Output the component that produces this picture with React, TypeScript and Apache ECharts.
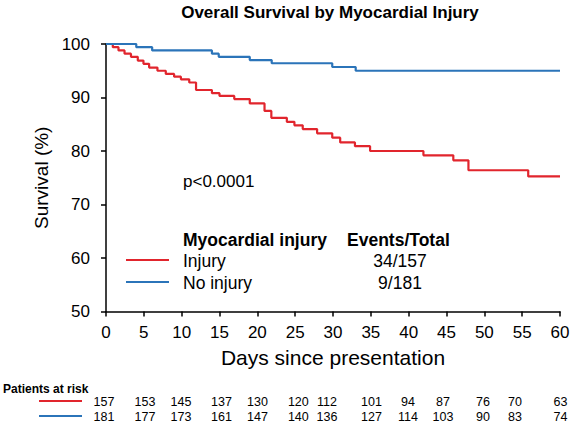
import React, { useEffect, useRef } from "react";
import * as echarts from "echarts";

const FONT = "'Liberation Sans', Arial, Helvetica, sans-serif";
const RED = "#e1252d";
const BLUE = "#2b74b9";

const titleText = "Overall Survival by Myocardial Injury";
const xAxisName = "Days since presentation";
const yAxisName = "Survival (%)";
const pValueText = "p<0.0001";
const legendHeader = ["Myocardial injury", "Events/Total"];
const groupNames = ["Injury", "No injury"];
const groupEvents = ["34/157", "9/181"];

// Kaplan-Meier steps: [day, survival %]
const injuryCurve: [number, number][] = [
  [0, 100], [0.9, 99.4], [1.65, 98.8], [2.45, 98.2], [3.3, 97.6], [4.2, 96.9],
  [4.95, 96.3], [5.7, 95.6], [6.8, 95.0], [7.9, 94.4], [9.0, 93.9], [9.9, 93.4],
  [11.0, 92.8], [11.9, 91.4], [14.0, 90.8], [15.0, 90.3], [16.95, 89.7], [19.0, 88.9],
  [20.95, 87.5], [21.85, 86.2], [23.9, 85.45], [24.9, 84.8], [26.0, 84.1], [27.9, 83.3],
  [29.9, 82.5], [30.95, 81.6], [32.9, 80.9], [34.9, 80.0], [41.95, 79.2], [45.9, 78.25],
  [47.9, 76.4], [55.8, 75.25], [60, 75.25],
];
const noInjuryCurve: [number, number][] = [
  [0, 100], [4.0, 99.4], [6.1, 98.8], [14.0, 98.2], [14.9, 97.6], [19.0, 97.0],
  [21.9, 96.4], [29.9, 95.7], [33.0, 95.0], [60, 95.0],
];

const atRiskTitle = "Patients at risk";
const atRiskInjury = [157, 153, 145, 137, 130, 120, 112, 101, 94, 87, 76, 70, 63];
const atRiskNoInjury = [181, 177, 173, 161, 147, 140, 136, 127, 114, 103, 90, 83, 74];

// layout (pixel positions of the at-risk table columns)
const atRiskColX = [104, 145, 181, 221.5, 257.5, 298.3, 327, 371.5, 408, 443, 483, 515, 560.5];

export default function App() {
  const ref = useRef<HTMLDivElement>(null);
  useEffect(() => {
    if (!ref.current) return;
    const chart = echarts.init(ref.current, null, { renderer: "svg" });
    const colors = [RED, BLUE];
    const graphic: any[] = [
      {
        type: "text", x: 330, y: 12,
        style: { text: titleText, font: `bold 17px ${FONT}`, fill: "#000", align: "center", verticalAlign: "middle" },
      },
      {
        type: "text", x: 183, y: 181,
        style: { text: pValueText, font: `17px ${FONT}`, fill: "#000", align: "left", verticalAlign: "middle" },
      },
      {
        type: "text", x: 183, y: 240,
        style: { text: legendHeader[0], font: `bold 17.5px ${FONT}`, fill: "#000", align: "left", verticalAlign: "middle" },
      },
      {
        type: "text", x: 347, y: 240,
        style: { text: legendHeader[1], font: `bold 17.5px ${FONT}`, fill: "#000", align: "left", verticalAlign: "middle" },
      },
      {
        type: "text", x: 3, y: 389,
        style: { text: atRiskTitle, font: `bold 12px ${FONT}`, fill: "#000", align: "left", verticalAlign: "middle" },
      },
    ];
    const legendY = [261, 283];
    groupNames.forEach((name, i) => {
      graphic.push({
        type: "line",
        shape: { x1: 126, y1: legendY[i] - 1, x2: 169, y2: legendY[i] - 1 },
        style: { stroke: colors[i], lineWidth: 2 },
      });
      graphic.push({
        type: "text", x: 183, y: legendY[i],
        style: { text: name, font: `17.5px ${FONT}`, fill: "#000", align: "left", verticalAlign: "middle" },
      });
      graphic.push({
        type: "text", x: 400, y: legendY[i],
        style: { text: groupEvents[i], font: `17.5px ${FONT}`, fill: "#000", align: "center", verticalAlign: "middle" },
      });
    });
    const rowY = [402, 417];
    [atRiskInjury, atRiskNoInjury].forEach((row, r) => {
      graphic.push({
        type: "line",
        shape: { x1: 39, y1: rowY[r] - 1, x2: 82, y2: rowY[r] - 1 },
        style: { stroke: colors[r], lineWidth: 2 },
      });
      row.forEach((v, i) => {
        graphic.push({
          type: "text", x: atRiskColX[i], y: rowY[r],
          style: { text: String(v), font: `12.5px ${FONT}`, fill: "#000", align: "center", verticalAlign: "middle" },
        });
      });
    });

    chart.setOption({
      animation: false,
      backgroundColor: "#fff",
      grid: { left: 106, top: 44, width: 454, height: 267.5, containLabel: false },
      xAxis: {
        type: "value", min: 0, max: 60, interval: 5,
        name: xAxisName, nameLocation: "middle", nameGap: 35,
        nameTextStyle: { fontSize: 21, color: "#000", fontFamily: FONT },
        axisLine: { lineStyle: { color: "#000", width: 1.5 } },
        axisTick: { show: true, length: 5, lineStyle: { color: "#000", width: 1.5 } },
        axisLabel: { fontSize: 17, color: "#000", fontFamily: FONT, margin: 12 },
        splitLine: { show: false },
      },
      yAxis: {
        type: "value", min: 50, max: 100, interval: 10,
        name: yAxisName, nameLocation: "middle", nameGap: 52,
        nameTextStyle: { fontSize: 19, color: "#000", fontFamily: FONT },
        axisLine: { show: true, lineStyle: { color: "#000", width: 1.5 } },
        axisTick: { show: true, length: 5, lineStyle: { color: "#000", width: 1.5 } },
        axisLabel: { fontSize: 17, color: "#000", fontFamily: FONT, margin: 16 },
        splitLine: { show: false },
      },
      series: [
        {
          name: groupNames[0], type: "line", step: "end", data: injuryCurve,
          showSymbol: false, symbol: "none",
          lineStyle: { color: RED, width: 2.2 }, itemStyle: { color: RED },
        },
        {
          name: groupNames[1], type: "line", step: "end", data: noInjuryCurve,
          showSymbol: false, symbol: "none",
          lineStyle: { color: BLUE, width: 2.2 }, itemStyle: { color: BLUE },
        },
      ],
      graphic,
    });
    return () => chart.dispose();
  }, []);
  return (
    <div
      ref={ref}
      style={{ position: "fixed", left: 0, top: 0, width: 573, height: 424, background: "#fff" }}
    />
  );
}
